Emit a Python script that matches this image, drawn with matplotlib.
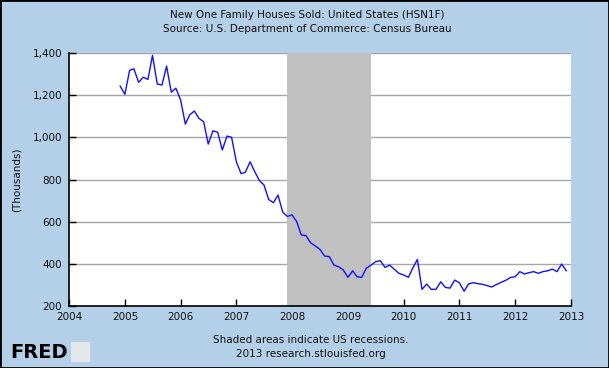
import pandas as pd
import matplotlib
matplotlib.use("Agg")
import matplotlib.pyplot as plt
import matplotlib.dates as mdates
from matplotlib.patches import Rectangle
from matplotlib.ticker import FuncFormatter

# New One Family Houses Sold, thousands (SAAR), Dec 2004 - Dec 2012
start_month = "2004-12-01"
sales = [
    1243,                                                                # 2004
    1204, 1318, 1325, 1261, 1285, 1275, 1389, 1253, 1248, 1338, 1214, 1233,  # 2005
    1177, 1063, 1106, 1125, 1090, 1074, 968, 1031, 1024, 940, 1006, 1000,    # 2006
    884, 828, 834, 884, 838, 795, 774, 705, 690, 726, 645, 625,              # 2007
    632, 600, 537, 534, 500, 485, 469, 437, 434, 394, 386, 371,              # 2008
    336, 367, 339, 336, 379, 394, 410, 415, 383, 394, 374, 355,              # 2009
    347, 336, 379, 421, 279, 304, 279, 279, 315, 288, 285, 323,              # 2010
    310, 270, 304, 311, 306, 303, 297, 290, 302, 312, 322, 335,              # 2011
    339, 363, 352, 358, 363, 355, 363, 367, 375, 363, 399, 367,              # 2012
]
recession = ("2007-12-01", "2009-06-01")
year_ticks = list(range(2004, 2014))
y_ticks = [200, 400, 600, 800, 1000, 1200, 1400]

dates = pd.date_range(start_month, periods=len(sales), freq="MS")

bg = "#b4cfe8"
fig = plt.figure(figsize=(6.09, 3.68), dpi=100, facecolor=bg)
ax = fig.add_axes([69 / 609, 1 - 306 / 368, (571 - 69) / 609, (306 - 53) / 368])
ax.set_facecolor("white")

ax.set_yticks(y_ticks)
ax.yaxis.grid(True, color="#a6a6a6", lw=1, zorder=0)
ax.set_axisbelow(True)
ax.axvspan(pd.Timestamp(recession[0]), pd.Timestamp(recession[1]),
           color="#c0c0c0", lw=0, zorder=1)
ax.plot(dates, sales, color="#1010ff", lw=1.0, zorder=3)

ax.set_xlim(pd.Timestamp("2004-01-01"), pd.Timestamp("2013-01-01"))
ax.set_ylim(200, 1400)
ax.set_xticks([pd.Timestamp(f"{y}-01-01") for y in year_ticks])
ax.xaxis.set_major_formatter(mdates.DateFormatter("%Y"))
ax.yaxis.set_major_formatter(FuncFormatter(lambda v, p: f"{int(v):,}"))

for s in ["top", "right"]:
    ax.spines[s].set_visible(False)
for s in ["left", "bottom"]:
    ax.spines[s].set_color("black")
    ax.spines[s].set_linewidth(1.2)
    ax.spines[s].set_zorder(4)
ax.tick_params(axis="both", direction="in", length=5, width=1, colors="black",
               labelsize=7.5, labelcolor="#111111")
ax.tick_params(axis="x", pad=4)
ax.tick_params(axis="y", pad=5)

fig.text(0.505, 1 - 15 / 368, "New One Family Houses Sold: United States (HSN1F)",
         ha="center", va="center", fontsize=7.5, color="#111111")
fig.text(0.505, 1 - 29 / 368, "Source: U.S. Department of Commerce: Census Bureau",
         ha="center", va="center", fontsize=7.5, color="#111111")
fig.text(17 / 609, 1 - 180 / 368, "(Thousands)", rotation=90,
         ha="center", va="center", fontsize=7.5, color="#111111")
fig.text(0.51, 1 - 340 / 368, "Shaded areas indicate US recessions.",
         ha="center", va="center", fontsize=7.5, color="#111111")
fig.text(0.51, 1 - 354 / 368, "2013 research.stlouisfed.org",
         ha="center", va="center", fontsize=7.5, color="#111111")

# FRED logo
fig.text(10 / 609, 1 - 352 / 368, "FRED", ha="left", va="center",
         fontsize=14, fontweight="bold", color="black")
fig.patches.append(Rectangle((71 / 609, 1 - 362 / 368), 19 / 609, 20 / 368,
                             transform=fig.transFigure, facecolor="#e4e8ec",
                             edgecolor="none"))

# outer frame
fig.patches.append(Rectangle((0, 0), 1, 1, transform=fig.transFigure,
                             facecolor="none", edgecolor="black", lw=2))

fig.savefig("out.png", dpi=100, facecolor=bg)
